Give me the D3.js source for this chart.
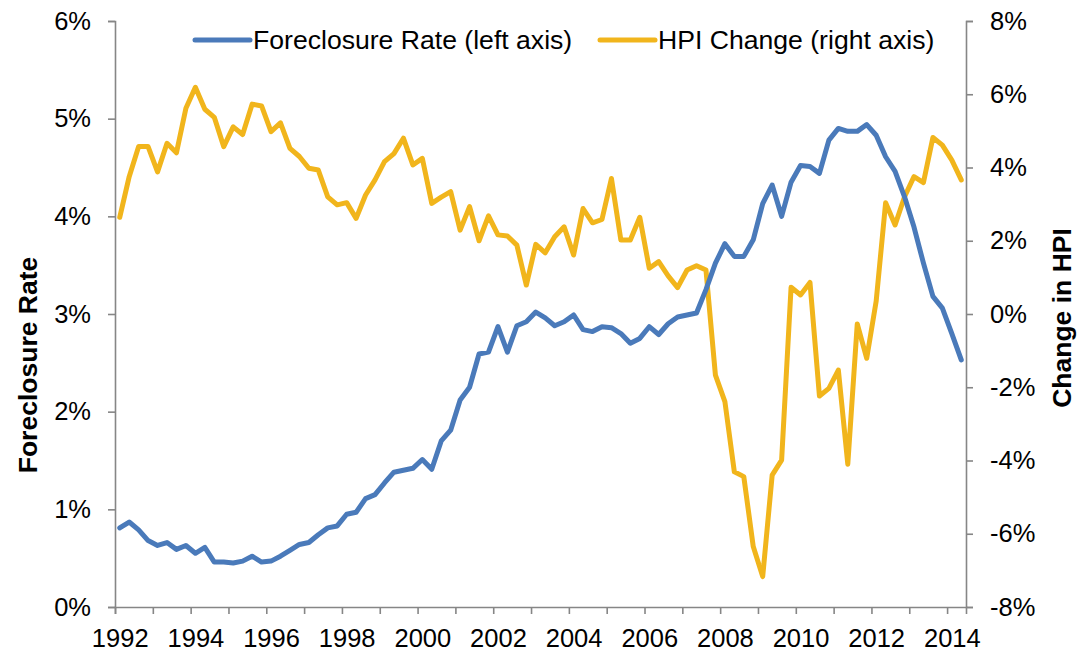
<!DOCTYPE html>
<html>
<head>
<meta charset="utf-8">
<script src="https://cdn.jsdelivr.net/npm/d3@7/dist/d3.min.js"></script>
<style>
	body { margin: 0; background: #fff; }
	svg { display: block; font-family: "Liberation Sans", Arial, sans-serif; }
</style>
</head>
<body>
<div id="chart"></div>
<script>
(function () {
'use strict';

// quarterly, 1992 Q1 .. 2014 Q2
var startYear = 1992;
var yearLabels = ["1992", "1994", "1996", "1998", "2000", "2002", "2004", "2006", "2008", "2010", "2012", "2014"];

// foreclosure rate, % (left axis)
var foreclosureRate = [
	0.81, 0.87, 0.79, 0.68, 0.63, 0.66, 0.59, 0.63,
	0.55, 0.61, 0.46, 0.46, 0.45, 0.47, 0.52, 0.46,
	0.47, 0.52, 0.58, 0.64, 0.66, 0.74, 0.81, 0.83,
	0.95, 0.97, 1.11, 1.15, 1.27, 1.38, 1.40, 1.42,
	1.51, 1.41, 1.70, 1.81, 2.12, 2.25, 2.59, 2.61,
	2.87, 2.61, 2.88, 2.92, 3.02, 2.96, 2.88, 2.92,
	2.99, 2.84, 2.82, 2.87, 2.86, 2.80, 2.70, 2.75,
	2.87, 2.79, 2.90, 2.97, 2.99, 3.01, 3.25, 3.52,
	3.72, 3.59, 3.59, 3.76, 4.13, 4.32, 4.00, 4.35,
	4.52, 4.51, 4.44, 4.78, 4.90, 4.87, 4.87, 4.94,
	4.83, 4.61, 4.46, 4.20, 3.89, 3.52, 3.18, 3.06,
	2.80, 2.53
];

// change in HPI, % (right axis)
var hpiChange = [
	2.64, 3.75, 4.57, 4.57, 3.88, 4.66, 4.40, 5.62,
	6.19, 5.59, 5.37, 4.57, 5.11, 4.90, 5.73, 5.68,
	4.98, 5.22, 4.52, 4.30, 3.98, 3.93, 3.20, 2.98,
	3.04, 2.61, 3.25, 3.66, 4.16, 4.38, 4.80, 4.07,
	4.25, 3.02, 3.19, 3.34, 2.29, 2.93, 2.00, 2.68,
	2.16, 2.13, 1.88, 0.79, 1.90, 1.67, 2.11, 2.38,
	1.61, 2.88, 2.49, 2.58, 3.70, 2.02, 2.02, 2.64,
	1.25, 1.43, 1.04, 0.72, 1.20, 1.32, 1.20, -1.67,
	-2.39, -4.31, -4.44, -6.35, -7.17, -4.40, -3.99, 0.73,
	0.52, 0.86, -2.24, -2.03, -1.53, -4.10, -0.27, -1.21,
	0.35, 3.04, 2.43, 3.20, 3.75, 3.59, 4.82, 4.61,
	4.20, 3.66
];

var leftTicks = [0, 1, 2, 3, 4, 5, 6];
var rightTicks = [-8, -6, -4, -2, 0, 2, 4, 6, 8];

var seriesNames = ["Foreclosure Rate (left axis)", "HPI Change (right axis)"];
var seriesColors = ["#4a7aba", "#f1b51c"];

var width = 1079, height = 652;
var plot = { left: 115, right: 966, top: 21, bottom: 607 };
var axisColor = "#868686";

var svg = d3.select("#chart").append("svg")
	.attr("width", width)
	.attr("height", height);

svg.append("rect")
	.attr("width", width)
	.attr("height", height)
	.attr("fill", "#fff");

var n = foreclosureRate.length;
// categories sit between tick marks, Excel style
var x = d3.scaleLinear().domain([0, n]).range([plot.left, plot.right]);
var yLeft = d3.scaleLinear().domain([0, 6]).range([plot.bottom, plot.top]);
var yRight = d3.scaleLinear().domain([-8, 8]).range([plot.bottom, plot.top]);

var pct = function(d){ return d + "%"; };

// left axis
var gLeft = svg.append("g")
	.attr("transform", "translate(" + plot.left + ",0)")
	.call(d3.axisLeft(yLeft).tickValues(leftTicks).tickFormat(pct).tickSize(7).tickPadding(17));

// right axis
var gRight = svg.append("g")
	.attr("transform", "translate(" + plot.right + ",0)")
	.call(d3.axisRight(yRight).tickValues(rightTicks).tickFormat(pct).tickSize(7).tickPadding(17));

// bottom axis: tick marks every 4 quarters, labels every 8 quarters
var tickPos = [];
for(var k = 0; k < n; k += 4) tickPos.push(k);
var gBottom = svg.append("g")
	.attr("transform", "translate(0," + plot.bottom + ")")
	.call(d3.axisBottom(x).tickValues(tickPos).tickFormat("").tickSize(7));

var labelPos = yearLabels.map(function(y){ return (+y - startYear) * 4 + 0.5; });
var gLabels = svg.append("g")
	.attr("transform", "translate(0," + plot.bottom + ")")
	.call(d3.axisBottom(x).tickValues(labelPos)
		.tickFormat(function(d, i){ return yearLabels[i]; })
		.tickSize(0).tickPadding(22));
gLabels.select(".domain").remove();

[gLeft, gRight, gBottom].forEach(function(g){
	g.select(".domain").attr("stroke", axisColor).attr("stroke-width", 1.6);
	g.selectAll(".tick line").attr("stroke", axisColor).attr("stroke-width", 1.6);
});
[gLeft, gRight, gLabels].forEach(function(g){
	g.selectAll(".tick text")
		.attr("fill", "#000")
		.attr("font-size", "25.5px")
		.attr("font-family", "'Liberation Sans', Arial, sans-serif");
});

// axis titles
svg.append("text")
	.attr("transform", "translate(37,365) rotate(-90)")
	.attr("text-anchor", "middle")
	.attr("font-size", "26.5px")
	.attr("font-weight", "bold")
	.text("Foreclosure Rate");

svg.append("text")
	.attr("transform", "translate(1071,318) rotate(-90)")
	.attr("text-anchor", "middle")
	.attr("font-size", "26.5px")
	.attr("font-weight", "bold")
	.text("Change in HPI");

// series
var lineLeft = d3.line()
	.x(function(d, i){ return x(i + 0.5); })
	.y(function(d){ return yLeft(d); });
var lineRight = d3.line()
	.x(function(d, i){ return x(i + 0.5); })
	.y(function(d){ return yRight(d); });

svg.append("path")
	.datum(hpiChange)
	.attr("d", lineRight)
	.attr("fill", "none")
	.attr("stroke", seriesColors[1])
	.attr("stroke-width", 5)
	.attr("stroke-linejoin", "round")
	.attr("stroke-linecap", "round");

svg.append("path")
	.datum(foreclosureRate)
	.attr("d", lineLeft)
	.attr("fill", "none")
	.attr("stroke", seriesColors[0])
	.attr("stroke-width", 5)
	.attr("stroke-linejoin", "round")
	.attr("stroke-linecap", "round");

// legend
var legendX = [195, 600];
var legend = svg.append("g");
seriesNames.forEach(function(name, i){
	legend.append("line")
		.attr("x1", legendX[i]).attr("x2", legendX[i] + 55)
		.attr("y1", 40).attr("y2", 40)
		.attr("stroke", seriesColors[i])
		.attr("stroke-width", 5)
		.attr("stroke-linecap", "round");
	legend.append("text")
		.attr("x", legendX[i] + 58)
		.attr("y", 49)
		.attr("font-size", "26.6px")
		.text(name);
});

}());
</script>
</body>
</html>
